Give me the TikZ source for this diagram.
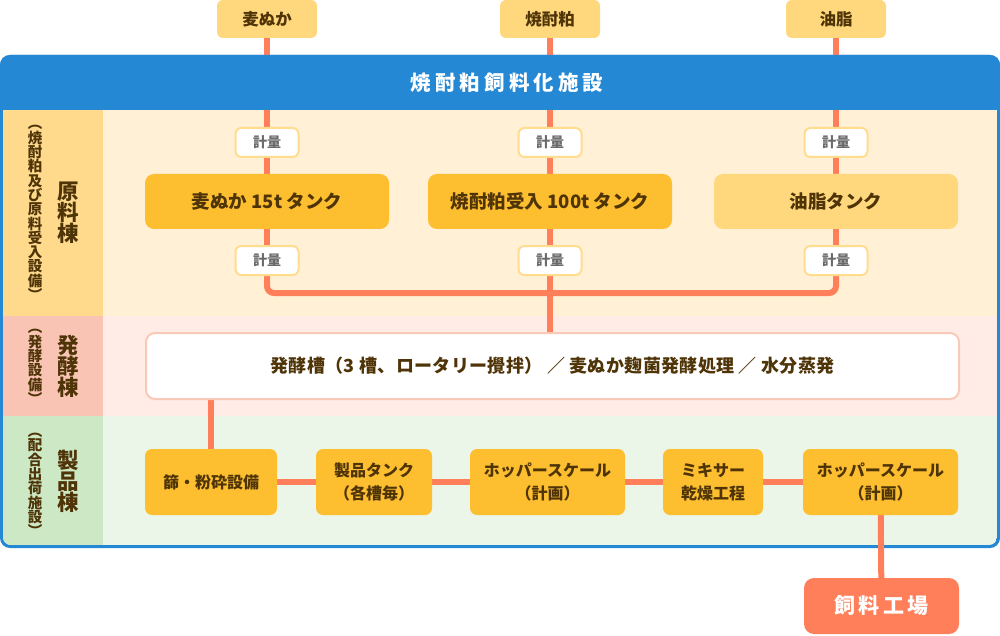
\documentclass[tikz,border=0pt]{standalone}
\usepackage{fontspec}
\setmainfont{Noto Sans CJK JP}
\pgfdeclarelayer{bg}
\pgfdeclarelayer{pipes}
\pgfdeclarelayer{hdr}
\pgfsetlayers{bg,pipes,hdr,main}
\definecolor{frameblue}{HTML}{2588D5}
\definecolor{pipecol}{HTML}{FF7F5A}
\definecolor{srcfill}{HTML}{FFD77C}
\definecolor{tankfill}{HTML}{FDBE2F}
\definecolor{oilfill}{HTML}{FFD77C}
\definecolor{meterborder}{HTML}{FFDC8E}
\definecolor{metertxt}{HTML}{6A6A6A}
\definecolor{txt}{HTML}{4F3408}
\definecolor{sideA}{HTML}{FFDA8C}
\definecolor{areaA}{HTML}{FFF0D6}
\definecolor{sideB}{HTML}{F9C4B4}
\definecolor{areaB}{HTML}{FFECE6}
\definecolor{sideC}{HTML}{CDE8C5}
\definecolor{areaC}{HTML}{EBF6E8}
\definecolor{fermborder}{HTML}{F9C9B8}
\newcommand\fsz[2]{\fontsize{#1}{#2}\selectfont}
\begin{document}
\begin{tikzpicture}[x=1pt,y=-1pt,
  pipe/.style={draw=pipecol, line width=6pt},
  srcbox/.style={fill=srcfill, rounded corners=6pt, minimum width=100pt, minimum height=38pt, inner sep=0pt, text=txt, font=\fsz{16.5}{18}\bfseries},
  meter/.style={fill=white, draw=meterborder, line width=2pt, rounded corners=6pt, minimum width=63pt, minimum height=29pt, inner sep=0pt, text=metertxt, font=\fsz{14}{15}\bfseries},
  tank/.style={fill=tankfill, rounded corners=9pt, minimum width=244pt, minimum height=55pt, inner sep=0pt, text=txt, font=\fsz{18.5}{20}\bfseries},
  prod/.style={fill=tankfill, rounded corners=7pt, minimum height=66pt, inner sep=0pt, text=txt, align=center, font=\fsz{16}{23}\bfseries},
  sidesmall/.style={text=txt, align=center, inner sep=0pt, font=\fsz{14.5}{14.3}\bfseries},
  sidebig/.style={text=txt, align=center, inner sep=0pt, font=\fsz{21.5}{21}\bfseries},
]
\useasboundingbox (0,0) rectangle (1000,636);

% frame and sections
\begin{pgfonlayer}{bg}
  \fill[frameblue, rounded corners=10pt] (0,55) rectangle (1000,548);
  \begin{scope}
    \clip[rounded corners=8pt] (3,100) rectangle (997,545);
    \fill[areaA] (3,110) rectangle (997,316);
    \fill[sideA] (3,110) rectangle (103,316);
    \fill[areaB] (3,316) rectangle (997,416);
    \fill[sideB] (3,316) rectangle (103,416);
    \fill[areaC] (3,416) rectangle (997,545);
    \fill[sideC] (3,416) rectangle (103,545);
  \end{scope}
\end{pgfonlayer}
\begin{pgfonlayer}{hdr}
  \fill[frameblue] (0,110) {[rounded corners=10pt] -- (0,55) -- (1000,55)} -- (1000,110) -- cycle;
\end{pgfonlayer}

\node[text=white, font=\fsz{20.5}{24}\bfseries\addfontfeatures{LetterSpace=20}] (title) at (507,83) {焼酎粕飼料化施設};

% sources
\node[srcbox] (src1) at (267,19) {麦ぬか};
\node[srcbox] (src2) at (550,19) {焼酎粕};
\node[srcbox] (src3) at (836,19) {油脂};

% meters and tanks
\node[meter] (k1a) at (267,142.5) {計量};
\node[meter] (k2a) at (550,142.5) {計量};
\node[meter] (k3a) at (836,142.5) {計量};
\node[tank] (t1) at (267,201.5) {麦ぬか 15t タンク};
\node[tank] (t2) at (550,201.5) {焼酎粕受入 100t タンク};
\node[tank, fill=oilfill] (t3) at (836,201.5) {油脂タンク};
\node[meter] (k1b) at (267,260.5) {計量};
\node[meter] (k2b) at (550,260.5) {計量};
\node[meter] (k3b) at (836,260.5) {計量};
\coordinate (bus) at (550,293);

% fermentation
\node[fill=white, draw=fermborder, line width=2pt, rounded corners=9pt, minimum width=813pt, minimum height=66pt, inner sep=0pt, text=txt, font=\fsz{18}{20}\bfseries\addfontfeatures{LetterSpace=2}] (ferm) at (552.5,366) {発酵槽（3 槽、ロータリー攪拌） ／ 麦ぬか麹菌発酵処理 ／ 水分蒸発};

% products
\node[prod, minimum width=132pt] (sieve) at (211,482) {篩・粉砕設備};
\node[prod, minimum width=116pt] (ptank) at (374,482) {製品タンク\\（各槽毎）};
\node[prod, minimum width=155pt] (hop1) at (547.5,482) {ホッパースケール\\（計画）};
\node[prod, minimum width=100pt] (mix) at (713,482) {ミキサー\\乾燥工程};
\node[prod, minimum width=155pt] (hop2) at (880.5,482) {ホッパースケール\\（計画）};
\node[fill=pipecol, rounded corners=10pt, minimum width=155pt, minimum height=56pt, inner sep=0pt, text=white, font=\fsz{21}{24}\bfseries\addfontfeatures{LetterSpace=15}] (factory) at (881.5,606) {飼料工場};

% side labels
\node[sidesmall] (sA) at (35,213) {︵\\焼\\酎\\粕\\及\\び\\原\\料\\受\\入\\設\\備\\︶};
\node[sidebig] (bA) at (68,213) {原\\料\\棟};
\node[sidesmall] (sB) at (35,367) {︵\\発\\酵\\設\\備\\︶};
\node[sidebig] (bB) at (68,366) {発\\酵\\棟};
\node[sidesmall] (sC) at (35,485) {︵\\配\\合\\出\\荷\\施\\設\\︶};
\node[sidebig] (bC) at (68,481) {製\\品\\棟};

% pipes
\begin{pgfonlayer}{pipes}
  \draw[pipe] (src1) -- (k1a) -- (t1) -- (k1b);
  \draw[pipe] (src2) -- (k2a) -- (t2) -- (k2b);
  \draw[pipe] (src3) -- (k3a) -- (t3) -- (k3b);
  \draw[pipe, rounded corners=7pt] (k1b.south) |- (bus) -| (k3b.south);
  \draw[pipe] (k2b) -- (ferm.north -| k2b);
  \draw[pipe] (sieve.north) -- (sieve.north |- ferm.south);
  \draw[pipe] (sieve) -- (ptank) -- (hop1) -- (mix) -- (hop2);
  \draw[pipe] (hop2) -- (factory);
\end{pgfonlayer}
\end{tikzpicture}
\end{document}
